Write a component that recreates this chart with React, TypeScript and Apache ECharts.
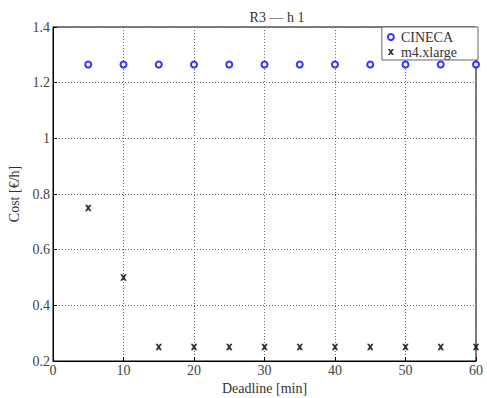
import React, { useEffect, useRef } from "react";
import * as echarts from "echarts";

const deadlines = [5, 10, 15, 20, 25, 30, 35, 40, 45, 50, 55, 60];
const cinecaCost = [1.265, 1.265, 1.265, 1.265, 1.265, 1.265, 1.265, 1.265, 1.265, 1.265, 1.265, 1.265];
const m4Cost = [0.75, 0.5, 0.25, 0.25, 0.25, 0.25, 0.25, 0.25, 0.25, 0.25, 0.25, 0.25];
const seriesNames = ["CINECA", "m4.xlarge"];

const crossPath = "path://M0,0 L3.2,0 L5,2.4 L6.8,0 L10,0 L6.8,5 L10,10 L6.8,10 L5,7.6 L3.2,10 L0,10 L3.2,5 Z";
const FONT = "Liberation Serif";
const FS = 14;

export default function App() {
  const ref = useRef<HTMLDivElement>(null);
  useEffect(() => {
    if (!ref.current) return;
    const chart = echarts.init(ref.current, null, { renderer: "svg" });
    chart.setOption({
      animation: false,
      backgroundColor: "#fff",
      textStyle: { fontFamily: FONT },
      title: {
        text: "R3 — h 1",
        left: 272,
        top: 5,
        textAlign: "center",
        textStyle: { fontFamily: FONT, fontSize: FS, fontWeight: "normal", color: "#333" },
      },
      grid: {
        left: 53, right: 11, top: 27, bottom: 37,
        outerBoundsMode: "none",
        containLabel: false,
        show: true, borderColor: "#000", borderWidth: 1, backgroundColor: "transparent",
      },
      legend: {
        right: 9,
        top: 27,
        orient: "vertical",
        backgroundColor: "#fff",
        borderColor: "#666",
        borderWidth: 1,
        padding: [3, 21, 1, 5],
        itemGap: 1,
        itemWidth: 10,
        itemHeight: 6,
        textStyle: { fontFamily: FONT, fontSize: FS, color: "#333", padding: [0, 0, 0, 0] },
        data: [
          { name: seriesNames[0], icon: "circle", itemStyle: { color: "#fff", borderColor: "#0000ff", borderWidth: 2 } },
          { name: seriesNames[1], icon: crossPath, itemStyle: { color: "#000" } },
        ],
      },
      xAxis: {
        type: "value",
        min: 0,
        max: 60,
        interval: 10,
        name: "Deadline [min]",
        nameLocation: "middle",
        nameGap: 14,
        nameTextStyle: { fontFamily: FONT, fontSize: FS, color: "#333" },
        axisLine: { lineStyle: { color: "#000" } },
        axisTick: { inside: true, length: 4, lineStyle: { color: "#000" } },
        axisLabel: { fontFamily: FONT, fontSize: FS, color: "#444", margin: 2 },
        splitLine: { show: true, lineStyle: { type: [1, 2], color: "#666" } },
      },
      yAxis: {
        type: "value",
        min: 0.2,
        max: 1.4,
        interval: 0.2,
        name: "Cost [€/h]",
        nameLocation: "middle",
        nameGap: 25,
        nameTextStyle: { fontFamily: FONT, fontSize: FS, color: "#333" },
        axisLine: { show: true, lineStyle: { color: "#000" } },
        axisTick: { show: true, inside: true, length: 4, lineStyle: { color: "#000" } },
        axisLabel: {
          fontFamily: FONT,
          fontSize: FS,
          color: "#444",
          margin: 3,
          formatter: (v: number) => String(Math.round(v * 10) / 10),
        },
        splitLine: { show: true, lineStyle: { type: [1, 2], color: "#666" } },
      },
      series: [
        {
          name: seriesNames[0],
          type: "scatter",
          symbol: "circle",
          symbolSize: 6,
          itemStyle: { color: "#fff", borderColor: "#0000ff", borderWidth: 2 },
          data: deadlines.map((d, i) => [d, cinecaCost[i]]),
          z: 3,
        },
        {
          name: seriesNames[1],
          type: "scatter",
          symbol: crossPath,
          symbolSize: 6.5,
          itemStyle: { color: "#000" },
          data: deadlines.map((d, i) => [d, m4Cost[i]]),
          z: 3,
        },
      ],
    });
    return () => chart.dispose();
  }, []);
  return <div ref={ref} style={{ width: 487, height: 398, position: "absolute", left: 0, top: 0 }} />;
}
